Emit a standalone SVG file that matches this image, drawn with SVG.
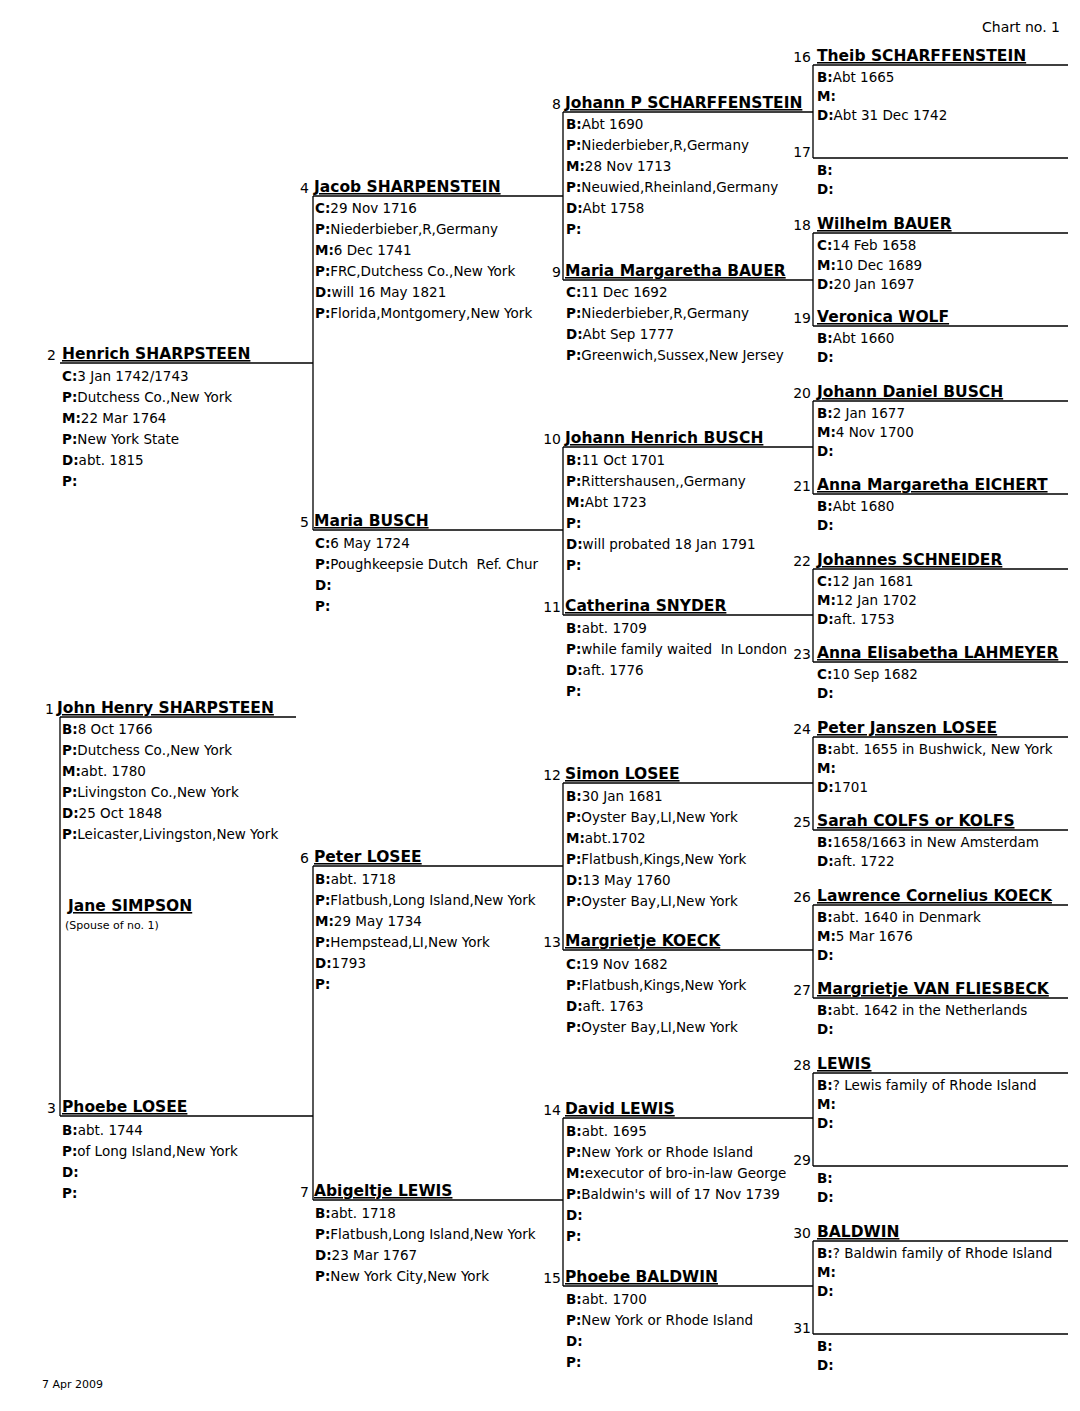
<svg xmlns="http://www.w3.org/2000/svg" width="1080" height="1411" viewBox="0 0 1080 1411">
<style>
text{font-family:"DejaVu Sans","Liberation Sans",sans-serif;fill:#000}
.nm{font-size:15.5px;font-weight:bold;text-decoration:underline}
.no{font-size:14px}
.d{font-size:13.5px}
.b{font-weight:bold}
.sm{font-size:11px}
.ln{stroke:#000;stroke-width:1.3;fill:none}
</style>
<rect x="0" y="0" width="1080" height="1411" fill="#fff"/>
<text class="no" x="1060" y="32" text-anchor="end">Chart no. 1</text>
<text class="sm" x="42" y="1388">7 Apr 2009</text>
<g id="connectors" class="ln">
<path d="M60 717H296M60 363H313M60 1116H313M60 717V1116"/>
<path d="M313 196H563M313 530H563M313 866H563M313 1200H563M313 196V530M313 866V1200"/>
<path d="M563 112H813M563 280H813M563 447H813M563 615H813M563 783H813M563 950H813M563 1118H813M563 1286H813"/>
<path d="M563 112V280M563 447V615M563 783V950M563 1118V1286"/>
<path d="M813 65H1068M813 158H1068M813 233H1068M813 326H1068M813 401H1068M813 494H1068M813 569H1068M813 662H1068M813 737H1068M813 830H1068M813 905H1068M813 998H1068M813 1073H1068M813 1166H1068M813 1241H1068M813 1334H1068"/>
<path d="M813 65V158M813 233V326M813 401V494M813 569V662M813 737V830M813 905V998M813 1073V1166M813 1241V1334"/>
</g>
<g id="p1">
<text class="no" x="54" y="714" text-anchor="end">1</text>
<text class="nm" x="57" y="713">John Henry SHARPSTEEN</text>
<text class="d" x="62" y="734"><tspan class="b">B:</tspan>8 Oct 1766</text>
<text class="d" x="62" y="755"><tspan class="b">P:</tspan>Dutchess Co.,New York</text>
<text class="d" x="62" y="776"><tspan class="b">M:</tspan>abt. 1780</text>
<text class="d" x="62" y="797"><tspan class="b">P:</tspan>Livingston Co.,New York</text>
<text class="d" x="62" y="818"><tspan class="b">D:</tspan>25 Oct 1848</text>
<text class="d" x="62" y="839"><tspan class="b">P:</tspan>Leicaster,Livingston,New York</text>
</g>
<g id="spouse">
<text class="nm" x="68" y="911">Jane SIMPSON</text>
<text class="sm" x="65" y="929">(Spouse of no. 1)</text>
</g>
<g id="p2">
<text class="no" x="56" y="360" text-anchor="end">2</text>
<text class="nm" x="62" y="359">Henrich SHARPSTEEN</text>
<text class="d" x="62" y="381"><tspan class="b">C:</tspan>3 Jan 1742/1743</text>
<text class="d" x="62" y="402"><tspan class="b">P:</tspan>Dutchess Co.,New York</text>
<text class="d" x="62" y="423"><tspan class="b">M:</tspan>22 Mar 1764</text>
<text class="d" x="62" y="444"><tspan class="b">P:</tspan>New York State</text>
<text class="d" x="62" y="465"><tspan class="b">D:</tspan>abt. 1815</text>
<text class="d" x="62" y="486"><tspan class="b">P:</tspan></text>
</g>
<g id="p3">
<text class="no" x="56" y="1113" text-anchor="end">3</text>
<text class="nm" x="62" y="1112">Phoebe LOSEE</text>
<text class="d" x="62" y="1135"><tspan class="b">B:</tspan>abt. 1744</text>
<text class="d" x="62" y="1156"><tspan class="b">P:</tspan>of Long Island,New York</text>
<text class="d" x="62" y="1177"><tspan class="b">D:</tspan></text>
<text class="d" x="62" y="1198"><tspan class="b">P:</tspan></text>
</g>
<g id="p4">
<text class="no" x="309" y="193" text-anchor="end">4</text>
<text class="nm" x="314" y="192">Jacob SHARPENSTEIN</text>
<text class="d" x="315" y="213"><tspan class="b">C:</tspan>29 Nov 1716</text>
<text class="d" x="315" y="234"><tspan class="b">P:</tspan>Niederbieber,R,Germany</text>
<text class="d" x="315" y="255"><tspan class="b">M:</tspan>6 Dec 1741</text>
<text class="d" x="315" y="276"><tspan class="b">P:</tspan>FRC,Dutchess Co.,New York</text>
<text class="d" x="315" y="297"><tspan class="b">D:</tspan>will 16 May 1821</text>
<text class="d" x="315" y="318"><tspan class="b">P:</tspan>Florida,Montgomery,New York</text>
</g>
<g id="p5">
<text class="no" x="309" y="527" text-anchor="end">5</text>
<text class="nm" x="314" y="526">Maria BUSCH</text>
<text class="d" x="315" y="548"><tspan class="b">C:</tspan>6 May 1724</text>
<text class="d" x="315" y="569"><tspan class="b">P:</tspan>Poughkeepsie Dutch&#160; Ref. Chur</text>
<text class="d" x="315" y="590"><tspan class="b">D:</tspan></text>
<text class="d" x="315" y="611"><tspan class="b">P:</tspan></text>
</g>
<g id="p6">
<text class="no" x="309" y="863" text-anchor="end">6</text>
<text class="nm" x="314" y="862">Peter LOSEE</text>
<text class="d" x="315" y="884"><tspan class="b">B:</tspan>abt. 1718</text>
<text class="d" x="315" y="905"><tspan class="b">P:</tspan>Flatbush,Long Island,New York</text>
<text class="d" x="315" y="926"><tspan class="b">M:</tspan>29 May 1734</text>
<text class="d" x="315" y="947"><tspan class="b">P:</tspan>Hempstead,LI,New York</text>
<text class="d" x="315" y="968"><tspan class="b">D:</tspan>1793</text>
<text class="d" x="315" y="989"><tspan class="b">P:</tspan></text>
</g>
<g id="p7">
<text class="no" x="309" y="1197" text-anchor="end">7</text>
<text class="nm" x="314" y="1196">Abigeltje LEWIS</text>
<text class="d" x="315" y="1218"><tspan class="b">B:</tspan>abt. 1718</text>
<text class="d" x="315" y="1239"><tspan class="b">P:</tspan>Flatbush,Long Island,New York</text>
<text class="d" x="315" y="1260"><tspan class="b">D:</tspan>23 Mar 1767</text>
<text class="d" x="315" y="1281"><tspan class="b">P:</tspan>New York City,New York</text>
</g>
<g id="p8">
<text class="no" x="561" y="109" text-anchor="end">8</text>
<text class="nm" x="565" y="108">Johann P SCHARFFENSTEIN</text>
<text class="d" x="566" y="129"><tspan class="b">B:</tspan>Abt 1690</text>
<text class="d" x="566" y="150"><tspan class="b">P:</tspan>Niederbieber,R,Germany</text>
<text class="d" x="566" y="171"><tspan class="b">M:</tspan>28 Nov 1713</text>
<text class="d" x="566" y="192"><tspan class="b">P:</tspan>Neuwied,Rheinland,Germany</text>
<text class="d" x="566" y="213"><tspan class="b">D:</tspan>Abt 1758</text>
<text class="d" x="566" y="234"><tspan class="b">P:</tspan></text>
</g>
<g id="p9">
<text class="no" x="561" y="277" text-anchor="end">9</text>
<text class="nm" x="565" y="276">Maria Margaretha BAUER</text>
<text class="d" x="566" y="297"><tspan class="b">C:</tspan>11 Dec 1692</text>
<text class="d" x="566" y="318"><tspan class="b">P:</tspan>Niederbieber,R,Germany</text>
<text class="d" x="566" y="339"><tspan class="b">D:</tspan>Abt Sep 1777</text>
<text class="d" x="566" y="360"><tspan class="b">P:</tspan>Greenwich,Sussex,New Jersey</text>
</g>
<g id="p10">
<text class="no" x="561" y="444" text-anchor="end">10</text>
<text class="nm" x="565" y="443">Johann Henrich BUSCH</text>
<text class="d" x="566" y="465"><tspan class="b">B:</tspan>11 Oct 1701</text>
<text class="d" x="566" y="486"><tspan class="b">P:</tspan>Rittershausen,,Germany</text>
<text class="d" x="566" y="507"><tspan class="b">M:</tspan>Abt 1723</text>
<text class="d" x="566" y="528"><tspan class="b">P:</tspan></text>
<text class="d" x="566" y="549"><tspan class="b">D:</tspan>will probated 18 Jan 1791</text>
<text class="d" x="566" y="570"><tspan class="b">P:</tspan></text>
</g>
<g id="p11">
<text class="no" x="561" y="612" text-anchor="end">11</text>
<text class="nm" x="565" y="611">Catherina SNYDER</text>
<text class="d" x="566" y="633"><tspan class="b">B:</tspan>abt. 1709</text>
<text class="d" x="566" y="654"><tspan class="b">P:</tspan>while family waited&#160; In London</text>
<text class="d" x="566" y="675"><tspan class="b">D:</tspan>aft. 1776</text>
<text class="d" x="566" y="696"><tspan class="b">P:</tspan></text>
</g>
<g id="p12">
<text class="no" x="561" y="780" text-anchor="end">12</text>
<text class="nm" x="565" y="779">Simon LOSEE</text>
<text class="d" x="566" y="801"><tspan class="b">B:</tspan>30 Jan 1681</text>
<text class="d" x="566" y="822"><tspan class="b">P:</tspan>Oyster Bay,LI,New York</text>
<text class="d" x="566" y="843"><tspan class="b">M:</tspan>abt.1702</text>
<text class="d" x="566" y="864"><tspan class="b">P:</tspan>Flatbush,Kings,New York</text>
<text class="d" x="566" y="885"><tspan class="b">D:</tspan>13 May 1760</text>
<text class="d" x="566" y="906"><tspan class="b">P:</tspan>Oyster Bay,LI,New York</text>
</g>
<g id="p13">
<text class="no" x="561" y="947" text-anchor="end">13</text>
<text class="nm" x="565" y="946">Margrietje KOECK</text>
<text class="d" x="566" y="969"><tspan class="b">C:</tspan>19 Nov 1682</text>
<text class="d" x="566" y="990"><tspan class="b">P:</tspan>Flatbush,Kings,New York</text>
<text class="d" x="566" y="1011"><tspan class="b">D:</tspan>aft. 1763</text>
<text class="d" x="566" y="1032"><tspan class="b">P:</tspan>Oyster Bay,LI,New York</text>
</g>
<g id="p14">
<text class="no" x="561" y="1115" text-anchor="end">14</text>
<text class="nm" x="565" y="1114">David LEWIS</text>
<text class="d" x="566" y="1136"><tspan class="b">B:</tspan>abt. 1695</text>
<text class="d" x="566" y="1157"><tspan class="b">P:</tspan>New York or Rhode Island</text>
<text class="d" x="566" y="1178"><tspan class="b">M:</tspan>executor of bro-in-law George</text>
<text class="d" x="566" y="1199"><tspan class="b">P:</tspan>Baldwin's will of 17 Nov 1739</text>
<text class="d" x="566" y="1220"><tspan class="b">D:</tspan></text>
<text class="d" x="566" y="1241"><tspan class="b">P:</tspan></text>
</g>
<g id="p15">
<text class="no" x="561" y="1283" text-anchor="end">15</text>
<text class="nm" x="565" y="1282">Phoebe BALDWIN</text>
<text class="d" x="566" y="1304"><tspan class="b">B:</tspan>abt. 1700</text>
<text class="d" x="566" y="1325"><tspan class="b">P:</tspan>New York or Rhode Island</text>
<text class="d" x="566" y="1346"><tspan class="b">D:</tspan></text>
<text class="d" x="566" y="1367"><tspan class="b">P:</tspan></text>
</g>
<g id="p16">
<text class="no" x="811" y="62" text-anchor="end">16</text>
<text class="nm" x="817" y="61">Theib SCHARFFENSTEIN</text>
<text class="d" x="817" y="82"><tspan class="b">B:</tspan>Abt 1665</text>
<text class="d" x="817" y="101"><tspan class="b">M:</tspan></text>
<text class="d" x="817" y="120"><tspan class="b">D:</tspan>Abt 31 Dec 1742</text>
</g>
<g id="p17">
<text class="no" x="811" y="157" text-anchor="end">17</text>
<text class="d" x="817" y="175"><tspan class="b">B:</tspan></text>
<text class="d" x="817" y="194"><tspan class="b">D:</tspan></text>
</g>
<g id="p18">
<text class="no" x="811" y="230" text-anchor="end">18</text>
<text class="nm" x="817" y="229">Wilhelm BAUER</text>
<text class="d" x="817" y="250"><tspan class="b">C:</tspan>14 Feb 1658</text>
<text class="d" x="817" y="270"><tspan class="b">M:</tspan>10 Dec 1689</text>
<text class="d" x="817" y="289"><tspan class="b">D:</tspan>20 Jan 1697</text>
</g>
<g id="p19">
<text class="no" x="811" y="323" text-anchor="end">19</text>
<text class="nm" x="817" y="322">Veronica WOLF</text>
<text class="d" x="817" y="343"><tspan class="b">B:</tspan>Abt 1660</text>
<text class="d" x="817" y="362"><tspan class="b">D:</tspan></text>
</g>
<g id="p20">
<text class="no" x="811" y="398" text-anchor="end">20</text>
<text class="nm" x="817" y="397">Johann Daniel BUSCH</text>
<text class="d" x="817" y="418"><tspan class="b">B:</tspan>2 Jan 1677</text>
<text class="d" x="817" y="437"><tspan class="b">M:</tspan>4 Nov 1700</text>
<text class="d" x="817" y="456"><tspan class="b">D:</tspan></text>
</g>
<g id="p21">
<text class="no" x="811" y="491" text-anchor="end">21</text>
<text class="nm" x="817" y="490">Anna Margaretha EICHERT</text>
<text class="d" x="817" y="511"><tspan class="b">B:</tspan>Abt 1680</text>
<text class="d" x="817" y="530"><tspan class="b">D:</tspan></text>
</g>
<g id="p22">
<text class="no" x="811" y="566" text-anchor="end">22</text>
<text class="nm" x="817" y="565">Johannes SCHNEIDER</text>
<text class="d" x="817" y="586"><tspan class="b">C:</tspan>12 Jan 1681</text>
<text class="d" x="817" y="605"><tspan class="b">M:</tspan>12 Jan 1702</text>
<text class="d" x="817" y="624"><tspan class="b">D:</tspan>aft. 1753</text>
</g>
<g id="p23">
<text class="no" x="811" y="659" text-anchor="end">23</text>
<text class="nm" x="817" y="658">Anna Elisabetha LAHMEYER</text>
<text class="d" x="817" y="679"><tspan class="b">C:</tspan>10 Sep 1682</text>
<text class="d" x="817" y="698"><tspan class="b">D:</tspan></text>
</g>
<g id="p24">
<text class="no" x="811" y="734" text-anchor="end">24</text>
<text class="nm" x="817" y="733">Peter Janszen LOSEE</text>
<text class="d" x="817" y="754"><tspan class="b">B:</tspan>abt. 1655 in Bushwick, New York</text>
<text class="d" x="817" y="773"><tspan class="b">M:</tspan></text>
<text class="d" x="817" y="792"><tspan class="b">D:</tspan>1701</text>
</g>
<g id="p25">
<text class="no" x="811" y="827" text-anchor="end">25</text>
<text class="nm" x="817" y="826">Sarah COLFS or KOLFS</text>
<text class="d" x="817" y="847"><tspan class="b">B:</tspan>1658/1663 in New Amsterdam</text>
<text class="d" x="817" y="866"><tspan class="b">D:</tspan>aft. 1722</text>
</g>
<g id="p26">
<text class="no" x="811" y="902" text-anchor="end">26</text>
<text class="nm" x="817" y="901">Lawrence Cornelius KOECK</text>
<text class="d" x="817" y="922"><tspan class="b">B:</tspan>abt. 1640 in Denmark</text>
<text class="d" x="817" y="941"><tspan class="b">M:</tspan>5 Mar 1676</text>
<text class="d" x="817" y="960"><tspan class="b">D:</tspan></text>
</g>
<g id="p27">
<text class="no" x="811" y="995" text-anchor="end">27</text>
<text class="nm" x="817" y="994">Margrietje VAN FLIESBECK</text>
<text class="d" x="817" y="1015"><tspan class="b">B:</tspan>abt. 1642 in the Netherlands</text>
<text class="d" x="817" y="1034"><tspan class="b">D:</tspan></text>
</g>
<g id="p28">
<text class="no" x="811" y="1070" text-anchor="end">28</text>
<text class="nm" x="817" y="1069">LEWIS</text>
<text class="d" x="817" y="1090"><tspan class="b">B:</tspan>? Lewis family of Rhode Island</text>
<text class="d" x="817" y="1109"><tspan class="b">M:</tspan></text>
<text class="d" x="817" y="1128"><tspan class="b">D:</tspan></text>
</g>
<g id="p29">
<text class="no" x="811" y="1165" text-anchor="end">29</text>
<text class="d" x="817" y="1183"><tspan class="b">B:</tspan></text>
<text class="d" x="817" y="1202"><tspan class="b">D:</tspan></text>
</g>
<g id="p30">
<text class="no" x="811" y="1238" text-anchor="end">30</text>
<text class="nm" x="817" y="1237">BALDWIN</text>
<text class="d" x="817" y="1258"><tspan class="b">B:</tspan>? Baldwin family of Rhode Island</text>
<text class="d" x="817" y="1277"><tspan class="b">M:</tspan></text>
<text class="d" x="817" y="1296"><tspan class="b">D:</tspan></text>
</g>
<g id="p31">
<text class="no" x="811" y="1333" text-anchor="end">31</text>
<text class="d" x="817" y="1351"><tspan class="b">B:</tspan></text>
<text class="d" x="817" y="1370"><tspan class="b">D:</tspan></text>
</g>
</svg>
